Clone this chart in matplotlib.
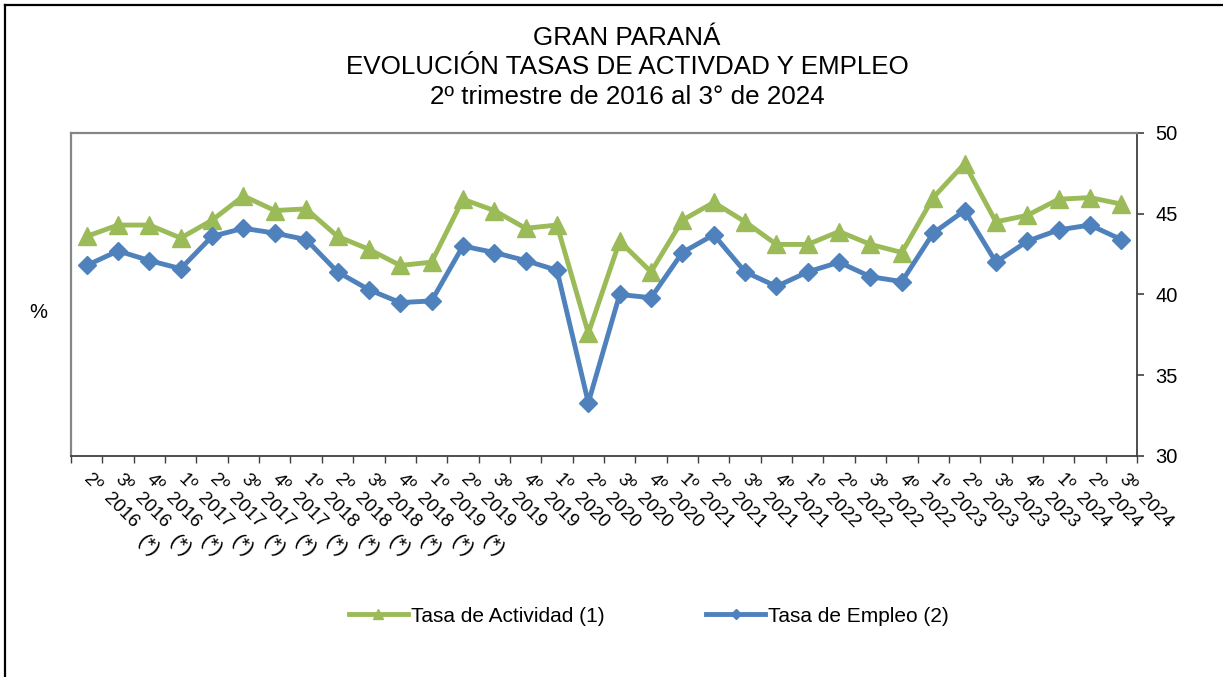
import matplotlib

matplotlib.use("Agg")
import matplotlib.pyplot as plt
from matplotlib.lines import Line2D

plt.rcParams.update({"font.family": ["Liberation Sans", "DejaVu Sans"]})

VERDE = "#9BBB59"
AZUL = "#4F81BD"
GRIS = "#868686"
OSCURO = "#404040"

# trimestres, 2º 2016 .. 3º 2024
trimestres = ["2º", "3º", "4º",
              "1º", "2º", "3º", "4º",
              "1º", "2º", "3º", "4º",
              "1º", "2º", "3º", "4º",
              "1º", "2º", "3º", "4º",
              "1º", "2º", "3º", "4º",
              "1º", "2º", "3º", "4º",
              "1º", "2º", "3º", "4º",
              "1º", "2º", "3º"]
anios = ["2016", "2016", "2016",
         "2017", "2017", "2017", "2017",
         "2018", "2018", "2018", "2018",
         "2019", "2019", "2019", "2019",
         "2020", "2020", "2020", "2020",
         "2021", "2021", "2021", "2021",
         "2022", "2022", "2022", "2022",
         "2023", "2023", "2023", "2023",
         "2024", "2024", "2024"]
notas = ["(*)"] * 12 + [""] * 22

actividad = [43.6, 44.3, 44.3, 43.5, 44.6, 46.1, 45.2, 45.3, 43.6, 42.8, 41.8, 42.0,
             45.9, 45.2, 44.1, 44.3, 37.6, 43.3, 41.4, 44.6, 45.7, 44.5, 43.1, 43.1,
             43.9, 43.1, 42.6, 46.0, 48.1, 44.5, 44.9, 45.9, 46.0, 45.6]
empleo = [41.8, 42.7, 42.1, 41.6, 43.6, 44.1, 43.8, 43.4, 41.4, 40.3, 39.5, 39.6,
          43.0, 42.6, 42.1, 41.5, 33.3, 40.0, 39.8, 42.6, 43.7, 41.4, 40.5, 41.4,
          42.0, 41.1, 40.8, 43.8, 45.2, 42.0, 43.3, 44.0, 44.3, 43.4]

W, H = 1223, 677
fig = plt.figure(figsize=(W / 100, H / 100), dpi=100)
ax = fig.add_axes([71 / W, 1 - 456 / H, (1137 - 71) / W, (456 - 133) / H])

x = list(range(len(actividad)))
ax.plot(x, actividad, color=VERDE, lw=3.5, marker="^", ms=12.5, mec=VERDE, mfc=VERDE, zorder=3)
ax.plot(x, empleo, color=AZUL, lw=3.5, marker="D", ms=9.5, mec=AZUL, mfc=AZUL, zorder=4)

ax.set_xlim(-0.5, len(x) - 0.5)
ax.set_ylim(30, 50)
ax.set_yticks([30, 35, 40, 45, 50])
ax.yaxis.tick_right()
ax.tick_params(axis="y", direction="out", length=5, width=1.2, color=OSCURO, labelsize=14.5, pad=8)
ax.set_xticks([i - 0.5 for i in range(len(x) + 1)])
ax.set_xticklabels([])
ax.tick_params(axis="x", direction="out", length=5, width=1.0, color=OSCURO)

for s in ("left", "top"):
    ax.spines[s].set_color(GRIS)
    ax.spines[s].set_linewidth(1.6)
for s in ("right", "bottom"):
    ax.spines[s].set_color(OSCURO)
    ax.spines[s].set_linewidth(1.3)

# etiquetas de categoria en diagonal
for i in x:
    for txt, off, fs in ((trimestres[i], (4.3, -19.4), 13.5), (anios[i], (24.5, -39.6), 13.5),
                         (notas[i], (44.5, -65.0), 15)):
        if not txt:
            continue
        ax.annotate(txt, xy=(i, 0), xycoords=("data", "axes fraction"), xytext=off,
                    textcoords="offset points", rotation=-45, rotation_mode="anchor",
                    ha="center", va="center", fontsize=fs, annotation_clip=False)

fig.text(38 / W, 1 - 313 / H, "%", ha="center", va="center", fontsize=14.5)

cx = 627 / W
fig.text(cx, 1 - 38 / H, "GRAN PARANÁ", ha="center", va="center", fontsize=18.7)
fig.text(cx, 1 - 67 / H, "EVOLUCIÓN TASAS DE ACTIVDAD Y EMPLEO", ha="center", va="center", fontsize=18.7)
fig.text(cx, 1 - 97 / H, "2º trimestre de 2016 al 3° de 2024", ha="center", va="center", fontsize=18.7)

handles = [Line2D([], [], color=VERDE, lw=3.5, marker="^", ms=7),
           Line2D([], [], color=AZUL, lw=3.5, marker="D", ms=5)]
fig.legend(handles, ["Tasa de Actividad (1)", "Tasa de Empleo (2)"], loc="center",
           bbox_to_anchor=(649 / W, 1 - 616 / H), ncol=2, frameon=False, fontsize=15,
           handlelength=2.8, handletextpad=0.15, columnspacing=4.9, numpoints=1)

# marco del grafico
fig.add_artist(Line2D([5 / W, 5 / W], [0, 1 - 5 / H], color="black", lw=1.6))
fig.add_artist(Line2D([5 / W, 1], [1 - 5 / H, 1 - 5 / H], color="black", lw=1.6))

fig.savefig("out.png", dpi=100)
